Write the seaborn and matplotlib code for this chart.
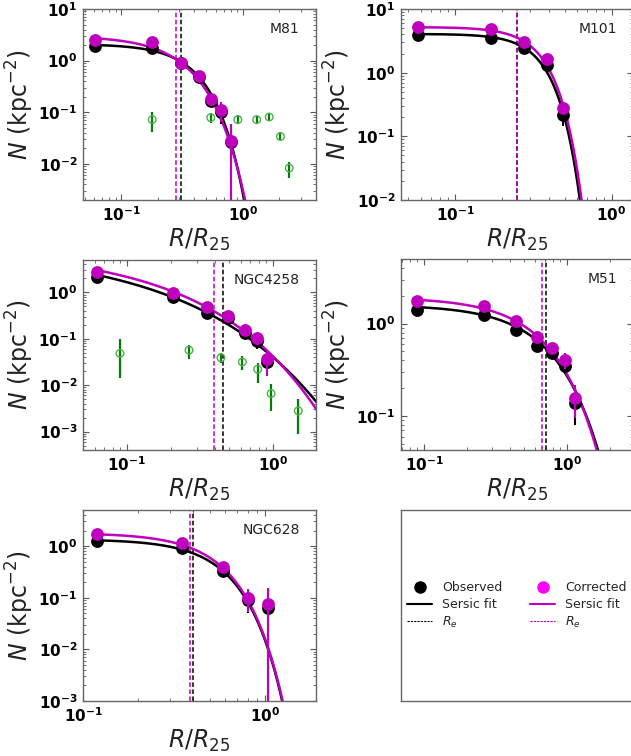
import numpy as np
import matplotlib
matplotlib.use("Agg")
import matplotlib.pyplot as plt
from matplotlib.lines import Line2D
import seaborn as sns

sns.set_style("ticks")
plt.rcParams.update({
    "font.family": ["DejaVu Sans"],
    "mathtext.fontset": "dejavusans",
    "xtick.direction": "in",
    "ytick.direction": "in",
    "xtick.top": True,
    "ytick.right": True,
    "xtick.major.size": 4.5,
    "ytick.major.size": 4.5,
    "xtick.minor.size": 2.5,
    "ytick.minor.size": 2.5,
    "xtick.color": "0.35",
    "ytick.color": "0.35",
    "axes.edgecolor": "0.4",
    "axes.linewidth": 1.0,
})

# ---------------- data ----------------
galaxies = ["M81", "M101", "NGC4258", "M51", "NGC628"]

# M81
m81_r = [0.061, 0.18, 0.31, 0.435, 0.545, 0.667, 0.796]
m81_obs = [1.95, 1.72, 0.89, 0.48, 0.165, 0.10, 0.026]
m81_obs_err = [0.10, 0.10, 0.05, 0.04, 0.04, 0.04, 0.025]
m81_cor = [2.5, 2.25, 0.92, 0.50, 0.178, 0.11, 0.028]
m81_cor_err = [0.15, 0.12, 0.06, 0.05, 0.045, 0.045, 0.032]
m81_ext_r = [0.18, 0.545, 0.91, 1.30, 1.65, 2.04, 2.41]
m81_ext = [0.072, 0.079, 0.072, 0.072, 0.081, 0.034, 0.0083]
m81_ext_lo = [0.042, 0.062, 0.059, 0.061, 0.070, 0.029, 0.0053]
m81_ext_hi = [0.101, 0.094, 0.087, 0.085, 0.094, 0.039, 0.011]

# M101
m101_r = [0.0575, 0.169, 0.277, 0.387, 0.49]
m101_obs = [3.97, 3.56, 2.40, 1.32, 0.218]
m101_obs_err = [0.2, 0.2, 0.15, 0.12, 0.075]
m101_cor = [5.2, 4.8, 2.98, 1.64, 0.277]
m101_cor_err = [0.25, 0.25, 0.2, 0.15, 0.05]

# NGC4258
n4258_r = [0.062, 0.207, 0.355, 0.494, 0.643, 0.773, 0.905]
n4258_obs = [2.13, 0.79, 0.36, 0.28, 0.134, 0.090, 0.032]
n4258_obs_err = [0.1, 0.05, 0.03, 0.03, 0.03, 0.03, 0.01]
n4258_cor = [2.8, 0.97, 0.485, 0.306, 0.153, 0.105, 0.037]
n4258_cor_err = [0.15, 0.06, 0.04, 0.04, 0.03, 0.03, 0.021]
n4258_ext_r = [0.0896, 0.266, 0.44, 0.617, 0.785, 0.97, 1.49]
n4258_ext = [0.0485, 0.057, 0.039, 0.0316, 0.022, 0.0066, 0.0028]
n4258_ext_lo = [0.0146, 0.036, 0.0306, 0.0213, 0.0114, 0.0028, 0.00089]
n4258_ext_hi = [0.097, 0.075, 0.050, 0.0425, 0.0306, 0.0105, 0.005]

# M51
m51_r = [0.089, 0.264, 0.44, 0.62, 0.79, 0.97, 1.14]
m51_obs = [1.40, 1.23, 0.85, 0.58, 0.48, 0.35, 0.14]
m51_obs_err = [0.15, 0.08, 0.06, 0.05, 0.05, 0.06, 0.06]
m51_cor = [1.77, 1.55, 1.06, 0.72, 0.55, 0.40, 0.156]
m51_cor_err = [0.2, 0.1, 0.08, 0.06, 0.07, 0.08, 0.06]

# NGC628
n628_r = [0.12, 0.348, 0.583, 0.80, 1.035]
n628_obs = [1.25, 0.90, 0.326, 0.091, 0.063]
n628_obs_err = [0.08, 0.06, 0.03, 0.04, 0.065]
n628_cor = [1.69, 1.16, 0.39, 0.10, 0.077]
n628_cor_err = [0.1, 0.08, 0.04, 0.047, 0.08]

# Sersic fits (N_e [kpc^-2], R_e [R25], n), observed / corrected
fit_obs_ne = [0.95, 2.80, 0.236, 0.54, 0.73]
fit_obs_re = [0.31, 0.25, 0.455, 0.71, 0.40]
fit_obs_n = [0.55, 0.33, 2.0, 0.70, 0.46]
fit_cor_ne = [1.08, 3.52, 0.394, 0.65, 0.93]
fit_cor_re = [0.28, 0.25, 0.394, 0.672, 0.387]
fit_cor_n = [0.67, 0.34, 1.7, 0.70, 0.48]

# axis ranges
x_limits = [(0.0485, 4.0), (0.045, 1.37), (0.05, 1.97), (0.069, 2.9), (0.1, 1.9)]
y_limits = [(0.002, 10), (0.01, 10), (4e-4, 5), (0.043, 5), (1e-3, 5)]

radii = [m81_r, m101_r, n4258_r, m51_r, n628_r]
observed = [m81_obs, m101_obs, n4258_obs, m51_obs, n628_obs]
observed_err = [m81_obs_err, m101_obs_err, n4258_obs_err, m51_obs_err, n628_obs_err]
corrected = [m81_cor, m101_cor, n4258_cor, m51_cor, n628_cor]
corrected_err = [m81_cor_err, m101_cor_err, n4258_cor_err, m51_cor_err, n628_cor_err]
extra = {0: (m81_ext_r, m81_ext, m81_ext_lo, m81_ext_hi),
         2: (n4258_ext_r, n4258_ext, n4258_ext_lo, n4258_ext_hi)}

OBS_C = "black"
COR_C = "#bf00bf"
COR_LEG = "#ff00ff"
EXT_C = "green"


def sersic_b(n):
    if n < 0.36:
        return 0.01945 - 0.8902 * n + 10.95 * n**2 - 19.67 * n**3 + 13.43 * n**4
    return 2 * n - 1 / 3 + 4 / (405 * n) + 46 / (25515 * n**2)


def sersic(r, ne, re, n):
    return ne * np.exp(-sersic_b(n) * ((r / re) ** (1.0 / n) - 1.0))


W, H = 631, 756
fig = plt.figure(figsize=(W / 100, H / 100), dpi=100)


def px_axes(left, top, right, bottom):
    return fig.add_axes([left / W, 1 - bottom / H, (right - left) / W, (bottom - top) / H])


boxes = [(83, 9, 316, 200), (401, 9, 633, 200),
         (83, 260, 316, 450), (401, 259, 633, 450),
         (83, 510, 316, 701)]

for i, name in enumerate(galaxies):
    ax = px_axes(*boxes[i])
    ax.set_xscale("log")
    ax.set_yscale("log")
    r = np.asarray(radii[i])
    rr = np.logspace(np.log10(r[0]), np.log10(x_limits[i][1] * 1.2), 300)

    ax.axvline(fit_obs_re[i], color=OBS_C, ls=(0, (3, 1.6)), lw=1.1, zorder=1.5)
    ax.axvline(fit_cor_re[i], color=COR_C, ls=(0, (3, 1.6)), lw=1.1, zorder=1.6)

    sns.lineplot(x=rr, y=sersic(rr, fit_obs_ne[i], fit_obs_re[i], fit_obs_n[i]),
                 ax=ax, color=OBS_C, lw=1.8, zorder=2)
    sns.lineplot(x=rr, y=sersic(rr, fit_cor_ne[i], fit_cor_re[i], fit_cor_n[i]),
                 ax=ax, color=COR_C, lw=1.8, zorder=2.1)

    if i in extra:
        er, ev, elo, ehi = (np.asarray(a) for a in extra[i])
        ax.errorbar(er, ev, yerr=[ev - elo, ehi - ev], fmt="none",
                    ecolor=EXT_C, elinewidth=1.6, zorder=2.2)
        sns.scatterplot(x=er, y=ev, ax=ax, marker="o", s=30, facecolor="none",
                        edgecolor="#4cb04c", linewidth=1.0, zorder=2.3)

    ax.errorbar(r, observed[i], yerr=observed_err[i], fmt="none",
                ecolor=OBS_C, elinewidth=1.5, zorder=2.5)
    sns.scatterplot(x=r, y=observed[i], ax=ax, color=OBS_C, s=85,
                    linewidth=0, zorder=3)
    ax.errorbar(r, corrected[i], yerr=corrected_err[i], fmt="none",
                ecolor=COR_C, elinewidth=1.5, zorder=3.5)
    sns.scatterplot(x=r, y=corrected[i], ax=ax, color=COR_C, s=85,
                    linewidth=0, zorder=4)

    ax.set_xlim(*x_limits[i])
    ax.set_ylim(*y_limits[i])
    ax.text(0.93, 0.895, name, transform=ax.transAxes, ha="right", va="center",
            fontsize=10, color="#222222")
    ax.set_xlabel(r"$R/R_{25}$", fontsize=17, color="#222222", labelpad=2)
    ax.set_ylabel(r"$N$ (kpc$^{-2}$)", fontsize=17, color="#222222", labelpad=2)
    ax.tick_params(which="both", labelsize=11, labelcolor="black", pad=4)
    for lab in ax.get_xticklabels() + ax.get_yticklabels():
        lab.set_fontweight("bold")

# legend panel
lax = px_axes(401, 510, 633, 701)
lax.set_xticks([])
lax.set_yticks([])
lax.tick_params(which="both", top=False, right=False, bottom=False, left=False)
handles = [
    Line2D([], [], ls="none", marker="o", color=OBS_C, ms=8),
    Line2D([], [], color=OBS_C, lw=1.5),
    Line2D([], [], color=OBS_C, lw=0.8, ls=(0, (2, 1))),
    Line2D([], [], ls="none", marker="o", color=COR_LEG, ms=8),
    Line2D([], [], color=COR_C, lw=1.5),
    Line2D([], [], color=COR_C, lw=0.8, ls=(0, (2, 1))),
]
labels = ["Observed", "Sersic fit", r"$R_e$", "Corrected", "Sersic fit", r"$R_e$"]
lax.legend(handles, labels, ncol=2, loc="center", frameon=False, fontsize=9,
           handlelength=2.0, columnspacing=2.2, labelspacing=0.3)

fig.savefig("out.png", dpi=100)
